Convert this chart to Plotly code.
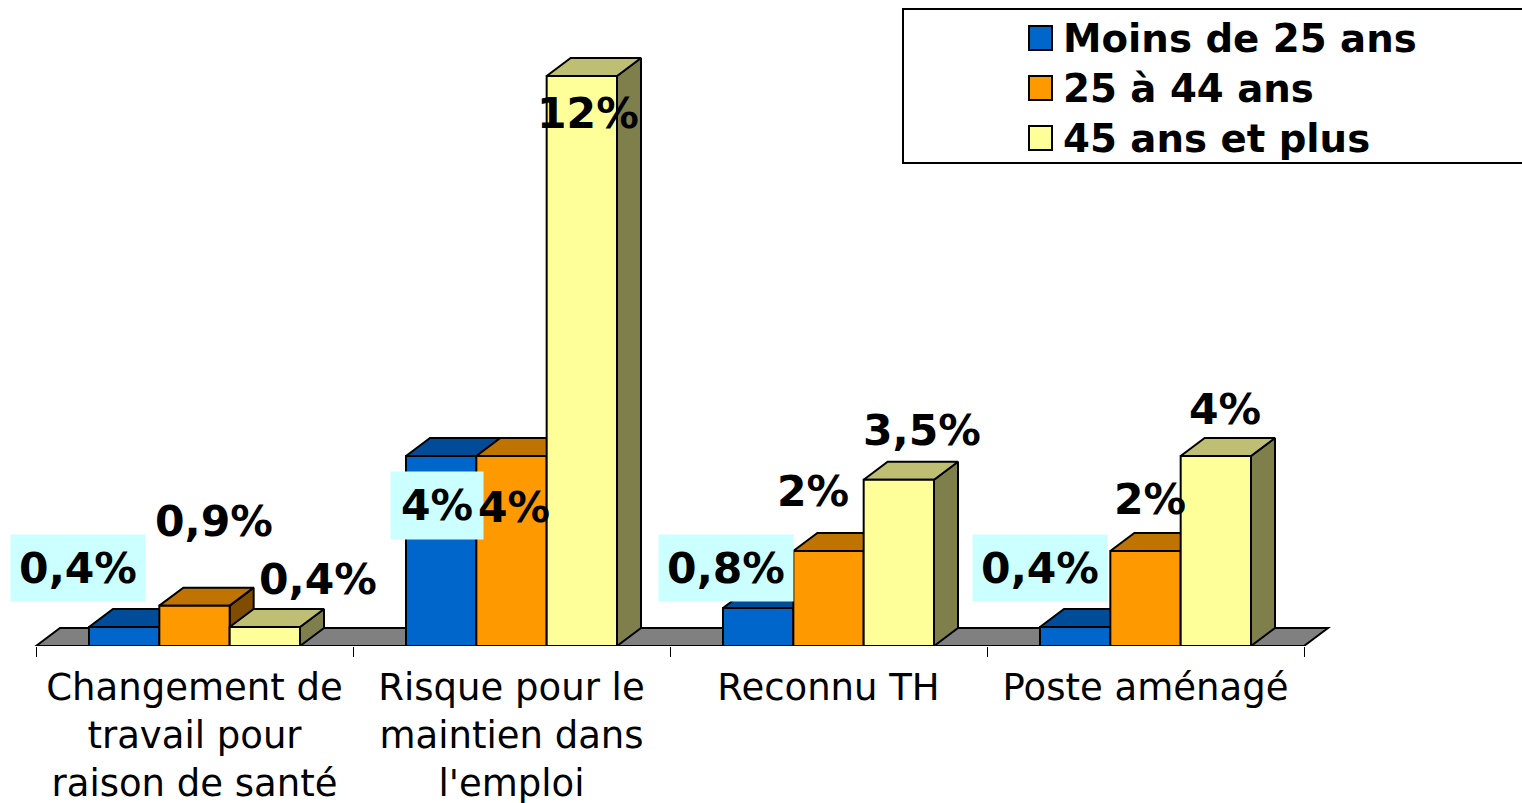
import plotly.graph_objects as go

# ---- data ----
categories = ["Changement de<br>travail pour<br>raison de santé",
              "Risque pour le<br>maintien dans<br>l'emploi",
              "Reconnu TH", "Poste aménagé"]
series_names = ["Moins de 25 ans", "25 à 44 ans", "45 ans et plus"]
moins_25 = [0.4, 4, 0.8, 0.4]
de_25_44 = [0.85, 4, 2, 2]
plus_45 = [0.4, 12, 3.5, 4]
labels_moins_25 = ["0,4%", "4%", "0,8%", "0,4%"]
labels_25_44 = ["0,9%", "4%", "2%", "2%"]
labels_plus_45 = ["0,4%", "12%", "3,5%", "4%"]

# ---- layout / style ----
W, H = 1522, 803
BASE_PX, LEFT_PX = 646, 36
CAT_PX, UNIT_PX = 317, 47.5
DEPTH_X, DEPTH_Y = 24 / CAT_PX, 18 / UNIT_PX
GROUP = 211 / CAT_PX
BAR = GROUP / 3
FONT = "DejaVu Sans"
front = ["#0066CC", "#FF9900", "#FFFF99"]
top = ["#004C99", "#BF7300", "#BFBF73"]
side = ["#003366", "#7F4C00", "#7F7F4C"]
all_values = [moins_25, de_25_44, plus_45]
all_labels = [labels_moins_25, labels_25_44, labels_plus_45]
label_centres = [[(78, 568), (437, 505), (726, 568), (1040, 568)],
                 [(214, 521), (514, 507), (813, 491), (1150, 499)],
                 [(318, 579), (588, 113), (922, 430), (1225, 409)]]
label_boxes = [(132, 64), (90, 65), (132, 64), (132, 64)]
legend_tops = (13, 63, 113)
xrange = [-LEFT_PX / CAT_PX, (W - LEFT_PX) / CAT_PX]
yrange = [0, BASE_PX / UNIT_PX]
xd = lambda px: (px - LEFT_PX) / CAT_PX
yd = lambda py: (BASE_PX - py) / UNIT_PX

fig = go.Figure()
positions = [i + 0.5 for i in range(len(categories))]

# 3D faces, computed from the values
for s, values in enumerate(all_values):
    tx, ty, sx, sy = [], [], [], []
    for c, v in enumerate(values):
        x0 = positions[c] - GROUP / 2 + s * BAR
        x1 = x0 + BAR
        tx += [x0, x0 + DEPTH_X, x1 + DEPTH_X, x1, x0, None]
        ty += [v, v + DEPTH_Y, v + DEPTH_Y, v, v, None]
        sx += [x1, x1 + DEPTH_X, x1 + DEPTH_X, x1, x1, None]
        sy += [0, DEPTH_Y, v + DEPTH_Y, v, 0, None]
    for xs, ys, col in ((sx, sy, side[s]), (tx, ty, top[s])):
        fig.add_trace(go.Scatter(x=xs, y=ys, mode="lines", fill="toself", fillcolor=col,
                                 line=dict(color="black", width=2), showlegend=False,
                                 hoverinfo="skip", xaxis="x", yaxis="y"))

# Front faces, above every 3D face
for s, values in enumerate(all_values):
    fig.add_trace(go.Bar(x=positions, y=values, name=series_names[s], width=BAR,
                         marker=dict(color=front[s], line=dict(color="black", width=2)),
                         offsetgroup=str(s), showlegend=False, xaxis="x2", yaxis="y2"))

# Legend entries, one legend per row so the row pitch can be kept
legend_ids = ["legend", "legend2", "legend3"]
for s, name in enumerate(series_names):
    fig.add_trace(go.Scatter(x=[None], y=[None], mode="markers", name=name, legend=legend_ids[s],
                             marker=dict(symbol="square", size=16, color=front[s]),
                             xaxis="x", yaxis="y"))

shapes = [dict(type="path", layer="below", xref="x", yref="y", fillcolor="#808080",
               line=dict(color="black", width=2),
               path=f"M0,0 L{DEPTH_X},{DEPTH_Y} L{4 + DEPTH_X},{DEPTH_Y} L4,0 Z"),
          dict(type="rect", layer="below", xref="x", yref="y",
               x0=xd(903), x1=xd(1530), y0=yd(163), y1=yd(9),
               line=dict(color="black", width=2), fillcolor="white")]
for s, cy in enumerate((38, 88, 138)):
    shapes.append(dict(type="rect", layer="below", xref="x", yref="y",
                       x0=xd(1029), x1=xd(1052), y0=yd(cy + 12), y1=yd(cy - 12),
                       line=dict(color="black", width=2), fillcolor=front[s]))

annotations = []
for s in range(3):
    for c, txt in enumerate(all_labels[s]):
        px, py = label_centres[s][c]
        a = dict(x=xd(px), y=yd(py), xref="x", yref="y", text=txt, showarrow=False,
                 xanchor="center", yanchor="middle",
                 font=dict(family=FONT, size=42.5, color="black", weight=700))
        if s == 0:
            a.update(bgcolor="#CCFFFF", width=label_boxes[c][0], height=label_boxes[c][1])
        annotations.append(a)

legend_style = dict(xanchor="left", yanchor="top", bgcolor="rgba(0,0,0,0)", borderwidth=0,
                    itemsizing="trace",
                    font=dict(family=FONT, size=38.7, color="black", weight=700))

fig.update_layout(
    width=W, height=H, margin=dict(l=0, r=0, t=0, b=H - BASE_PX, pad=0, autoexpand=False),
    paper_bgcolor="white", plot_bgcolor="rgba(0,0,0,0)",
    barmode="group", bargap=1 - GROUP, bargroupgap=0,
    font=dict(family=FONT, color="black"),
    hovermode=False, shapes=shapes, annotations=annotations,
    showlegend=True,
    legend=dict(x=1023 / W, y=1 - (legend_tops[0] - 8) / BASE_PX, **legend_style),
    legend2=dict(x=1023 / W, y=1 - (legend_tops[1] - 8) / BASE_PX, **legend_style),
    legend3=dict(x=1023 / W, y=1 - (legend_tops[2] - 8) / BASE_PX, **legend_style),
    xaxis=dict(range=xrange, tickmode="array", tickvals=positions, ticktext=categories,
               ticks="", showgrid=False, zeroline=False, showline=False, ticklabelstandoff=16,
               automargin=False,
               tickfont=dict(family=FONT, size=37, color="black"),
               minor=dict(tickmode="array", tickvals=[0, 1, 2, 3, 4], ticks="outside",
                          ticklen=10, tickwidth=1, tickcolor="black", showgrid=False)),
    yaxis=dict(range=yrange, visible=False, fixedrange=True),
    xaxis2=dict(range=xrange, overlaying="x", visible=False),
    yaxis2=dict(range=yrange, overlaying="y", visible=False),
)

fig.write_html("out.html", config=dict(displayModeBar=False),
               post_script="document.body.style.margin='0';document.body.style.overflow='hidden';")
